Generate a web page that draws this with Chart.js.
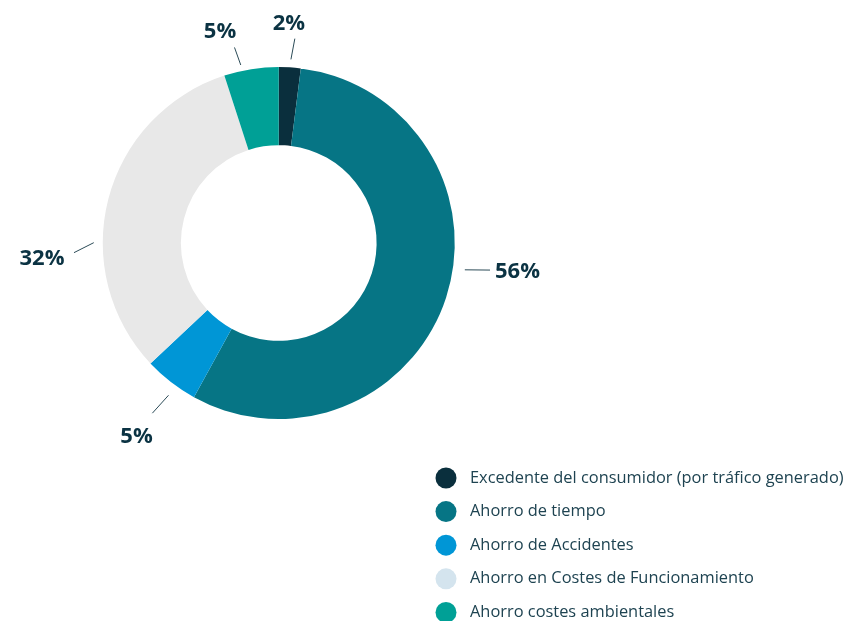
<!DOCTYPE html>
<html>
<head>
<meta charset="utf-8">
<script src="https://cdn.jsdelivr.net/npm/chart.js@4"></script>
<style>
  html, body { margin: 0; padding: 0; background: #ffffff; }
  #wrap { position: relative; width: 847px; height: 621px; }
</style>
</head>
<body>
<div id="wrap"><canvas id="chart"></canvas></div>
<script>
// Benefit categories and their share of total savings (%)
const categories = [
  'Excedente del consumidor (por tráfico generado)',
  'Ahorro de tiempo',
  'Ahorro de Accidentes',
  'Ahorro en Costes de Funcionamiento',
  'Ahorro costes ambientales'
];
const shares = [2, 56, 5, 32, 5];
const sliceColors = ['#0a2f3d', '#067585', '#0096d6', '#e8e8e8', '#00a096'];
const legendColors = ['#0a2f3d', '#067585', '#0096d6', '#d4e4ee', '#00a096'];

// Leader-line layout per label: angular shift of the line start from the
// slice middle and tilt of the line end (degrees), line start/end distance
// beyond the ring (px), and text centre offset from the line end (px)
const labelLayout = {
  shift: [0.2, -9.8, -1.9, -14.3, -3.05],
  tilt:  [0.7, -0.9, 0.7, -2.8, -0.7],
  inner: [8, 12, 12, 9, 6],
  outer: [29, 37, 36, 29, 24.5],
  textDx: [-6, 27.5, -15.8, -32, -14.5],
  textDy: [-15.5, 1, 22.5, 4.6, -16.5]
};

const deg = Math.PI / 180;

// Percentage labels with short leader lines
const outsideLabels = {
  id: 'outsideLabels',
  afterDatasetsDraw(chart) {
    const ctx = chart.ctx;
    const meta = chart.getDatasetMeta(0);
    ctx.save();
    ctx.font = 'bold 22px "Open Sans"';
    meta.data.forEach((arc, i) => {
      const p = arc.getProps(['x', 'y', 'startAngle', 'endAngle', 'outerRadius'], true);
      const mid = (p.startAngle + p.endAngle) / 2;
      const a1 = mid + labelLayout.shift[i] * deg;
      const a2 = a1 + labelLayout.tilt[i] * deg;
      const r1 = p.outerRadius + labelLayout.inner[i];
      const r2 = p.outerRadius + labelLayout.outer[i];
      const x1 = p.x + Math.cos(a1) * r1, y1 = p.y + Math.sin(a1) * r1;
      const x2 = p.x + Math.cos(a2) * r2, y2 = p.y + Math.sin(a2) * r2;
      ctx.strokeStyle = '#2b4b57';
      ctx.lineWidth = 1;
      ctx.beginPath();
      ctx.moveTo(x1, y1);
      ctx.lineTo(x2, y2);
      ctx.stroke();
      ctx.fillStyle = '#0b3343';
      ctx.textAlign = 'center';
      ctx.textBaseline = 'middle';
      ctx.fillText(shares[i] + '%', x2 + labelLayout.textDx[i], y2 + labelLayout.textDy[i] + 1);
    });
    ctx.restore();
  }
};

// Vertical legend with round markers, lower right
const sideLegend = {
  id: 'sideLegend',
  afterDraw(chart) {
    const ctx = chart.ctx;
    ctx.save();
    ctx.font = '16.4px "Open Sans"';
    ctx.textBaseline = 'middle';
    ctx.textAlign = 'left';
    categories.forEach((name, i) => {
      const y = 478 + i * 33.6;
      ctx.fillStyle = legendColors[i];
      ctx.beginPath();
      ctx.arc(446, y, 10.5, 0, Math.PI * 2);
      ctx.fill();
      ctx.fillStyle = '#1e4351';
      ctx.fillText(name, 470, y);
    });
    ctx.restore();
  }
};

new Chart(document.getElementById('chart'), {
  type: 'doughnut',
  data: {
    labels: categories,
    datasets: [{
      data: shares,
      backgroundColor: sliceColors,
      borderWidth: 0,
      hoverOffset: 0
    }]
  },
  options: {
    responsive: true,
    maintainAspectRatio: false,
    animation: false,
    cutout: '55.6%',
    layout: { padding: { left: 102.5, right: 392, top: 67, bottom: 202 } },
    plugins: {
      legend: { display: false },
      tooltip: { enabled: false }
    }
  },
  plugins: [outsideLabels, sideLegend]
});
</script>
</body>
</html>
